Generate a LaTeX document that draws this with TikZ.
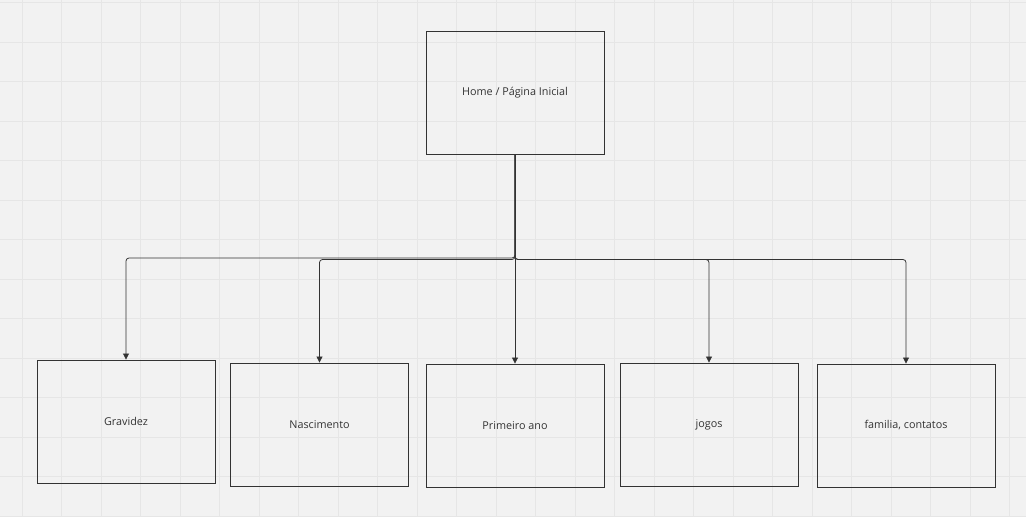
\documentclass[tikz,border=0pt]{standalone}
\usepackage{fontspec}
\setmainfont{Open Sans}
\usetikzlibrary{arrows.meta,positioning}

\definecolor{canvas}{HTML}{F2F2F2}
\definecolor{gridgray}{HTML}{E6E6E6}
\definecolor{inkgray}{HTML}{333333}

\begin{document}
\begin{tikzpicture}[x=1pt,y=-1pt,
    page/.style={draw=inkgray,line width=0.9pt,minimum width=178pt,minimum height=123pt,
        inner sep=0pt,font=\fontsize{10.8}{12}\selectfont,text=inkgray},
    link/.style={draw=inkgray,line width=0.8pt,rounded corners=3pt,-{Triangle[length=6pt,width=6pt]}}]
    % background and grid
    \fill[canvas] (0,0) rectangle (1026,517);
    \useasboundingbox (0,0) rectangle (1026,517);
    \foreach \k in {0,...,25}
        \draw[gridgray,line width=0.8pt] (22.3+39.5*\k,0) -- (22.3+39.5*\k,517);
    \foreach \k in {0,...,13}
        \draw[gridgray,line width=0.8pt] (0,2.5+39.5*\k) -- (1026,2.5+39.5*\k);

    % pages
    \node[page] (home) at (515,92.5) {Home / Página Inicial};
    \node[page] (gravidez) at (126,421.5) {Gravidez};
    \node[page] (nascimento) at (319.5,424.5) {Nascimento};
    \node[page] (primeiro) at (515,425.5) {Primeiro ano};
    \node[page] (jogos) at (709,424.5) {jogos};
    \node[page] (familia) at (906,425.5) {familia, contatos};

    % connectors
    \coordinate (split) at (515,258);
    \coordinate (splitb) at (515,259.5);
    \draw[link] (home.south) -- (split) -| (gravidez.north);
    \draw[link] (home.south) -- (splitb) -| (nascimento.north);
    \draw[link] (home.south) -- (primeiro.north);
    \draw[link] (home.south) -- (splitb) -| (jogos.north);
    \draw[link] (home.south) -- (splitb) -| (familia.north);
\end{tikzpicture}
\end{document}
